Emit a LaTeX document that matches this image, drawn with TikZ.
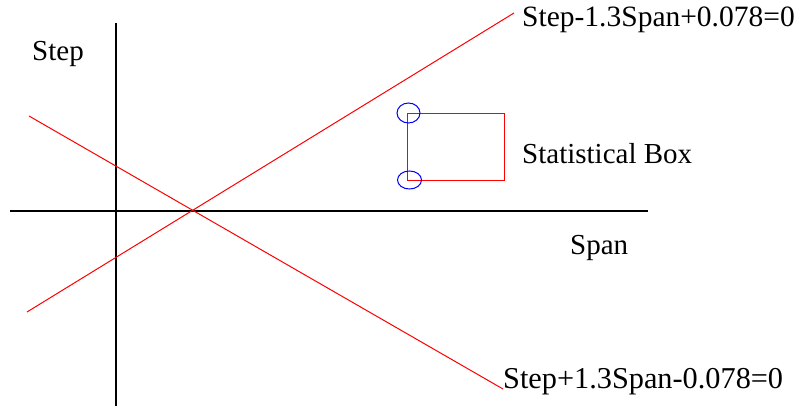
\documentclass[tikz,border=0pt]{standalone}
\usepackage{fontspec}
\setmainfont{Liberation Serif}
\begin{document}
\begin{tikzpicture}[x=1pt,y=-1pt,
  axis/.style={draw=black,line width=1.3pt},
  redline/.style={draw=red,line width=1pt},
  mark ring/.style={draw=blue,line width=1pt},
  lbl/.style={anchor=base west,inner sep=0pt,font=\fontsize{29}{33}\selectfont},
  eqlbl/.style={lbl,font=\fontsize{30.3}{34}\selectfont}]
\useasboundingbox (0,0) rectangle (800,410);
% axes
\coordinate (yTop) at (116,23);
\coordinate (yBot) at (116,406);
\coordinate (xL) at (10,211);
\coordinate (xR) at (648,211);
\draw[axis] (yTop) -- (yBot);
\draw[axis] (xL) -- (xR);
% red lines
\coordinate (r1s) at (27,312);
\coordinate (r1e) at (514,13);
\coordinate (r2s) at (29,116);
\coordinate (r2e) at (503,389);
\draw[redline] (r1s) -- (r1e);
\draw[redline] (r2s) -- (r2e);
% statistical box
\coordinate (bTL) at (407,113);
\coordinate (bBR) at (504,180);
\draw[redline] (bTL) rectangle (bBR);
\draw[mark ring] (408.5,113) ellipse [x radius=11.5, y radius=10];
\draw[mark ring] (409.5,180) ellipse [x radius=12, y radius=9];
% labels
\node[lbl] (lstep) at (32,60) {Step};
\node[lbl] (lspan) at (570,254) {Span};
\node[lbl] (lbox) at (522,163) {Statistical Box};
\node[eqlbl,font=\fontsize{29.5}{33}\selectfont] (l1) at (522,26) {Step-1.3Span+0.078=0};
\node[eqlbl] (l2) at (503,388) {Step+1.3Span-0.078=0};
\end{tikzpicture}
\end{document}
